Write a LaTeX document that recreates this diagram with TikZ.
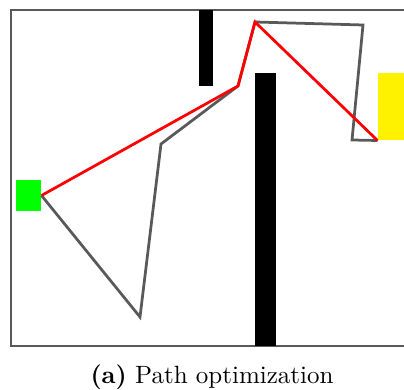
\documentclass[tikz,border=0pt]{standalone}
\usepackage{xcolor}
\usepackage{tikz}
\usetikzlibrary{positioning}

\begin{document}
\begin{tikzpicture}[
    x=0.4pt, y=-0.4pt,
    frame/.style={draw=black!65, line width=0.6pt},
    obstacle/.style={fill=black},
    startbox/.style={fill=green, inner sep=0pt, minimum width=10pt, minimum height=12.4pt},
    goalbox/.style={fill=yellow, inner sep=0pt, minimum width=10.8pt, minimum height=26.8pt},
    trial/.style={draw=black!65, line width=1.1pt},
    optimal/.style={draw=red, line width=1.1pt}
]
\useasboundingbox (0,0) rectangle (404,390);
\begin{scope}
\clip (0,0) rectangle (404,390);
\draw[frame] (11,10) rectangle (413,346);
\fill[obstacle] (199,10) rectangle (213,86);
\fill[obstacle] (255,73) rectangle (276,346);
\node[startbox] (start) at (28.5,195.5) {};
\node[goalbox]  (goal)  at (391.5,106.5) {};

% waypoints of the initial path
\coordinate (w1) at (140,317);
\coordinate (w2) at (161,144);
\coordinate (w3) at (238,86);
\coordinate (w4) at (255,22);
\coordinate (w5) at (363,25);
\coordinate (w6) at (352,140);

\draw[trial] (start.east) -- (w1) -- (w2) -- (w3) -- (w4) -- (w5) -- (w6) -- (goal.south west);
\draw[optimal] (start.east) -- (w3) -- (w4) -- (goal.south west);
\end{scope}

\node (caption) at (212,377) {\textbf{(a)} Path optimization};
\end{tikzpicture}
\end{document}
